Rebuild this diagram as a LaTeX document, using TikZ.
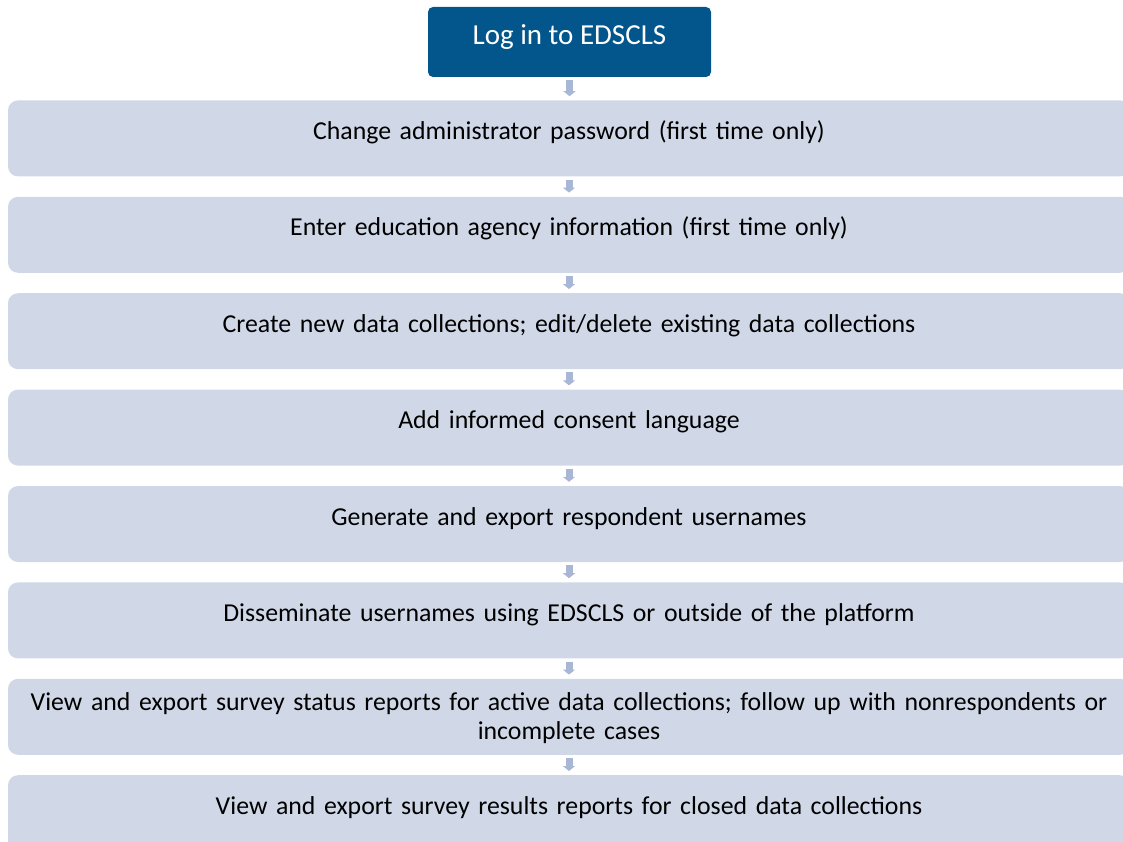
\documentclass[tikz,border=0pt]{standalone}
\usepackage{fontspec}
\setmainfont{Carlito}
\usetikzlibrary{arrows.meta, positioning}
\definecolor{edsdeep}{HTML}{02568C}
\definecolor{edslight}{HTML}{D0D8E8}
\definecolor{edsarrow}{HTML}{A8B7D6}

\begin{document}
\begin{tikzpicture}[x=1pt, y=1pt,
    stepbox/.style={fill=edslight, rounded corners=10pt, minimum width=1122pt,
      text width=1100pt, inner xsep=11pt, inner ysep=0pt, align=center,
      text height=39pt, text depth=37pt, font=\fontsize{25.8}{29}\selectfont},
    loginbox/.style={fill=edsdeep, text=white, rounded corners=5pt, minimum width=283pt,
      inner sep=0pt, text height=38pt, text depth=32pt, font=\fontsize{29}{32}\selectfont},
    flow/.style={edsarrow, line width=7pt, -{Triangle[width=12pt, length=5pt]},
      shorten <=3pt, shorten >=4pt}]
  \useasboundingbox (0,0) rectangle (1123,-842);
  \clip (0,0) rectangle (1123,-842);
  \node[loginbox] (login) at (569.5,-42) {Log in to EDSCLS};
  \node[stepbox, below=23pt of login.south, anchor=north, xshift=-0.5pt] (s1)
    {Change administrator password (first time only)};
  \node[stepbox, below=20pt of s1] (s2) {Enter education agency information (first time only)};
  \node[stepbox, below=20pt of s2] (s3) {Create new data collections; edit/delete existing data collections};
  \node[stepbox, below=20pt of s3] (s4) {Add informed consent language};
  \node[stepbox, below=20pt of s4] (s5) {Generate and export respondent usernames};
  \node[stepbox, below=20pt of s5] (s6) {Disseminate usernames using EDSCLS or outside of the platform};
  \node[stepbox, below=20pt of s6, text height=32pt, text depth=44pt] (s7)
    {View and export survey status reports for active data collections; follow up with nonrespondents or\\ incomplete cases};
  \node[stepbox, below=20pt of s7] (s8) {View and export survey results reports for closed data collections};
  \foreach \a/\b in {login/s1, s1/s2, s2/s3, s3/s4, s4/s5, s5/s6, s6/s7, s7/s8}
    \draw[flow] (\a.south) -- (\a.south |- \b.north);
\end{tikzpicture}
\end{document}
